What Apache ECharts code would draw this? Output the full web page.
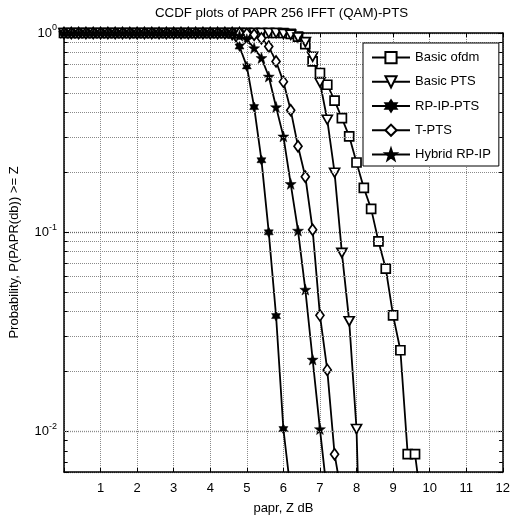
<!DOCTYPE html>
<html>
<head>
<meta charset="utf-8" />
<title>CCDF plots of PAPR 256 IFFT (QAM)-PTS</title>
<script src="https://cdn.jsdelivr.net/npm/echarts@6/dist/echarts.min.js"></script>
<style>
  html,
  body {
    margin: 0;
    padding: 0;
    background: #fff;
  }
  #chart {
    width: 513px;
    height: 520px;
  }
</style>
</head>
<body>
<div id="chart"></div>
<script>
// papr, Z dB (one sample every 0.2 dB)
const papr = [
  0, 0.2, 0.4, 0.6, 0.8, 1, 1.2, 1.4, 1.6, 1.8,
  2, 2.2, 2.4, 2.6, 2.8, 3, 3.2, 3.4, 3.6, 3.8,
  4, 4.2, 4.4, 4.6, 4.8, 5, 5.2, 5.4, 5.6, 5.8,
  6, 6.2, 6.4, 6.6, 6.8, 7, 7.2, 7.4, 7.6, 7.8,
  8, 8.2, 8.4, 8.6, 8.8, 9, 9.2, 9.4, 9.6, 9.8,
];

// P(PAPR >= Z) for each scheme
const basicOfdm = [
  1, 1, 1, 1, 1, 1, 1, 1, 1, 1,
  1, 1, 1, 1, 1, 1, 1, 1, 1, 1,
  1, 1, 1, 1, 1, 1, 1, 1, 1, 1,
  1, 0.99, 0.96, 0.88, 0.72, 0.63, 0.55, 0.458, 0.374, 0.303,
  0.224, 0.167, 0.131, 0.09, 0.0658, 0.0383, 0.0256, 0.0077, 0.0077, 0.004,
];
const basicPts = [
  1, 1, 1, 1, 1, 1, 1, 1, 1, 1,
  1, 1, 1, 1, 1, 1, 1, 1, 1, 1,
  1, 1, 1, 1, 1, 1, 1, 1, 1, 1,
  0.99, 0.98, 0.95, 0.9, 0.76, 0.565, 0.367, 0.199, 0.0788, 0.0358,
  0.0103, 0.0005,
];
const rpIpPts = [
  1, 1, 1, 1, 1, 1, 1, 1, 1, 1,
  1, 1, 1, 1, 1, 1, 1, 1, 1, 1,
  1, 1, 1, 0.97, 0.855, 0.68, 0.425, 0.23, 0.1, 0.038,
  0.0103, 0.005,
];
const tPts = [
  1, 1, 1, 1, 1, 1, 1, 1, 1, 1,
  1, 1, 1, 1, 1, 1, 1, 1, 1, 1,
  1, 1, 1, 1, 1, 0.99, 0.98, 0.94, 0.855, 0.72,
  0.57, 0.41, 0.27, 0.19, 0.103, 0.0383, 0.0204, 0.0077, 0.0047,
];
const hybridRpIp = [
  1, 1, 1, 1, 1, 1, 1, 1, 1, 1,
  1, 1, 1, 1, 1, 1, 1, 1, 1, 1,
  1, 1, 1, 1, 0.97, 0.93, 0.84, 0.75, 0.605, 0.425,
  0.303, 0.175, 0.102, 0.0516, 0.023, 0.0103, 0.0048,
];

// minor grid values of the log axis
const minorY = [
  0.007, 0.008, 0.009,
  0.02, 0.03, 0.04, 0.05, 0.06, 0.07, 0.08, 0.09,
  0.2, 0.3, 0.4, 0.5, 0.6, 0.7, 0.8, 0.9,
];

const yMin = 0.00627;
const yMax = 1;

function toPoints(values) {
  return values.map((v, i) => [papr[i], v]);
}

// marker shapes
const hexagram =
  "path://M0,-10L2.9,-5L8.66,-5L5.8,0L8.66,5L2.9,5L0,10L-2.9,5L-8.66,5L-5.8,0L-8.66,-5L-2.9,-5Z";
const pentagram =
  "path://M0,-10L2.35,-3.24L9.51,-3.09L3.8,1.24L5.88,8.09L0,4L-5.88,8.09L-3.8,1.24L-9.51,-3.09L-2.35,-3.24Z";

let myChart = echarts.init(document.getElementById("chart"));

let font = "Liberation Sans, Arial, sans-serif";
let gridLine = { color: "#8a8a8a", width: 1, type: [1, 1] };

function lineSeries(name, values, symbol, size, hollow, rotate) {
  return {
    name: name,
    type: "line",
    data: toPoints(values),
    symbol: symbol,
    symbolSize: size,
    symbolRotate: rotate || 0,
    showAllSymbol: true,
    clip: true,
    lineStyle: { color: "#000", width: 1.8 },
    itemStyle: hollow
      ? { color: "#fff", borderColor: "#000", borderWidth: 1.7 }
      : { color: "#000", borderColor: "#000", borderWidth: 0.5 },
    z: 3,
  };
}

let series = [
  lineSeries("Basic ofdm", basicOfdm, "rect", [9, 9], true),
  lineSeries("Basic PTS", basicPts, "triangle", [10, 9], true, 180),
  lineSeries("RP-IP-PTS", rpIpPts, hexagram, [9, 10], false),
  lineSeries("T-PTS", tPts, "diamond", [8, 11], true),
  lineSeries("Hybrid RP-IP", hybridRpIp, pentagram, [11, 11], false),
];

// minor grid + minor inside ticks of the log axis
series[0].markLine = {
  silent: true,
  symbol: ["none", "none"],
  label: { show: false },
  animation: false,
  lineStyle: gridLine,
  data: minorY.map((v) => ({ yAxis: v })),
};
series.push({
  name: "minorTicks",
  type: "line",
  data: [],
  markLine: {
    silent: true,
    symbol: ["none", "none"],
    label: { show: false },
    animation: false,
    lineStyle: { color: "#000", width: 1, type: "solid" },
    data: minorY
      .map((v) => [{ coord: [0, v] }, { coord: [0.1, v] }])
      .concat(minorY.map((v) => [{ coord: [11.9, v] }, { coord: [12, v] }])),
  },
});

let option = {
  animation: false,
  backgroundColor: "#fff",
  textStyle: { fontFamily: font, color: "#000" },
  title: {
    text: "CCDF plots of PAPR 256 IFFT (QAM)-PTS",
    left: 155,
    top: 7,
    padding: 0,
    textStyle: {
      fontFamily: font,
      fontSize: 13.3,
      fontWeight: "normal",
      color: "#000",
    },
  },
  legend: {
    data: ["Basic ofdm", "Basic PTS", "RP-IP-PTS", "T-PTS", "Hybrid RP-IP"],
    orient: "vertical",
    left: 363,
    top: 43,
    padding: [8, 8, 5, 8],
    itemWidth: 38,
    itemHeight: 14,
    itemGap: 11,
    backgroundColor: "#fff",
    borderColor: "#000",
    borderWidth: 1,
    textStyle: { fontFamily: font, fontSize: 13, color: "#000" },
    z: 10,
  },
  grid: {
    left: 59,
    right: 6,
    top: 33,
    bottom: 47,
    containLabel: false,
  },
  xAxis: [
    {
      type: "value",
      min: 0,
      max: 12,
      interval: 1,
      name: "papr, Z dB",
      nameLocation: "middle",
      nameGap: 30,
      nameTextStyle: { fontFamily: font, fontSize: 13, color: "#000" },
      axisLine: { show: true, onZero: false, lineStyle: { color: "#000", width: 1.5 } },
      axisTick: { show: true, inside: true, length: 4, lineStyle: { color: "#000" } },
      axisLabel: {
        margin: 10,
        fontFamily: font,
        fontSize: 13,
        color: "#000",
        formatter: (v) => (v === 0 ? "" : String(v)),
      },
      splitLine: { show: true, lineStyle: gridLine },
    },
    {
      type: "value",
      position: "top",
      min: 0,
      max: 12,
      interval: 1,
      axisLine: { show: true, onZero: false, lineStyle: { color: "#000", width: 1.5 } },
      axisTick: { show: true, inside: true, length: 4, lineStyle: { color: "#000" } },
      axisLabel: { show: false },
      splitLine: { show: false },
    },
  ],
  yAxis: [
    {
      type: "log",
      logBase: 10,
      min: yMin,
      max: yMax,
      name: "Probability, P(PAPR(db)) >= Z",
      nameLocation: "middle",
      nameGap: 43,
      nameTextStyle: { fontFamily: font, fontSize: 13, color: "#000" },
      axisLine: { show: true, onZero: false, lineStyle: { color: "#000", width: 1.5 } },
      axisTick: { show: true, inside: true, length: 5, lineStyle: { color: "#000" } },
      axisLabel: {
        margin: 7,
        formatter: function (v) {
          let e = Math.round(Math.log10(v));
          if (Math.abs(Math.log10(v) - e) > 1e-6) return "";
          return "{b|10}{e|" + e + "}";
        },
        rich: {
          b: { fontFamily: font, fontSize: 13, color: "#000" },
          e: { fontFamily: font, fontSize: 9, color: "#000", padding: [0, 0, 10, 0] },
        },
      },
      splitLine: { show: true, lineStyle: { color: "#666", width: 1.3, type: [1, 1] } },
    },
    {
      type: "log",
      logBase: 10,
      min: yMin,
      max: yMax,
      position: "right",
      axisLine: { show: true, onZero: false, lineStyle: { color: "#000", width: 1.5 } },
      axisTick: { show: true, inside: true, length: 5, lineStyle: { color: "#000" } },
      axisLabel: { show: false },
      splitLine: { show: false },
    },
  ],
  series: series,
};
myChart.setOption(option);
</script>
</body>
</html>
